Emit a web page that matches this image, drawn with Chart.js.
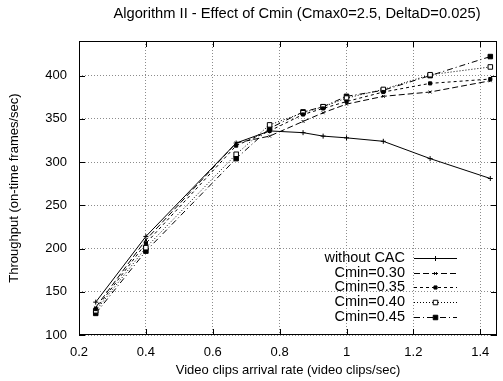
<!DOCTYPE html>
<html>
<head>
<meta charset="utf-8">
<script src="https://cdn.jsdelivr.net/npm/chart.js@4/dist/chart.umd.min.js"></script>
<style>
    html, body { margin: 0; padding: 0; background: #fff; }
    #wrap { width: 503px; height: 381px; }
</style>
</head>
<body>
<div id="wrap"><canvas id="throughputChart" width="503" height="381"></canvas></div>
<script>
const chartTitle = 'Algorithm II - Effect of Cmin (Cmax0=2.5, DeltaD=0.025)';
const arrivalRate = [0.25, 0.4, 0.67, 0.77, 0.87, 0.93, 1.0, 1.11, 1.25, 1.43];
const withoutCac = [138, 214, 322, 336, 334, 330, 328, 324, 304, 281];
const cmin030 = [132, 210, 322, 330, 347, 357, 367, 376, 381, 394];
const cmin035 = [130, 206, 319, 336, 355, 362, 370, 381, 391, 396];
const cmin040 = [128, 201, 309, 343, 357, 364, 374, 384, 401, 410];
const cmin045 = [125, 197, 304, 339, 358, 364, 376, 383, 400, 422];
const seriesLabels = ['without CAC', 'Cmin=0.30', 'Cmin=0.35', 'Cmin=0.40', 'Cmin=0.45'];
const xTickValues = [0.2, 0.4, 0.6, 0.8, 1.0, 1.2, 1.4];
const yTickValues = [100, 150, 200, 250, 300, 350, 400];

const FONT = "'Liberation Sans', Arial, Helvetica, sans-serif";

function toPoints(values) {
    return arrivalRate.map((x, i) => ({ x, y: values[i] }));
}

function makeSeries(label, values, dash, pointStyle, radius, fill) {
    return {
        label,
        data: toPoints(values),
        showLine: true,
        borderColor: '#000',
        borderWidth: 1,
        borderDash: dash,
        tension: 0,
        pointStyle,
        pointRadius: radius,
        pointHoverRadius: radius,
        pointBorderColor: '#000',
        pointBorderWidth: 1,
        pointBackgroundColor: fill
    };
}

// frame, inward ticks, title and the in-plot legend, gnuplot style
const gnuplotFrame = {
    id: 'gnuplotFrame',
    afterDraw(chart) {
        const ctx = chart.ctx;
        const area = chart.chartArea;
        const xs = chart.scales.x;
        const ys = chart.scales.y;
        const tick = 6;
        ctx.save();
        ctx.strokeStyle = '#000';
        ctx.lineWidth = 1;
        ctx.setLineDash([]);
        ctx.strokeRect(area.left + 0.5, area.top + 0.5, area.right - area.left - 1, area.bottom - area.top - 1);
        ctx.beginPath();
        xTickValues.forEach(v => {
            const px = Math.round(xs.getPixelForValue(v)) + 0.5;
            ctx.moveTo(px, area.bottom);
            ctx.lineTo(px, area.bottom - tick);
            ctx.moveTo(px, area.top);
            ctx.lineTo(px, area.top + tick);
        });
        yTickValues.forEach(v => {
            const py = Math.round(ys.getPixelForValue(v)) + 0.5;
            ctx.moveTo(area.left, py);
            ctx.lineTo(area.left + tick, py);
            ctx.moveTo(area.right, py);
            ctx.lineTo(area.right - tick, py);
        });
        ctx.stroke();

        ctx.fillStyle = '#000';
        ctx.font = '14.7px ' + FONT;
        ctx.textAlign = 'center';
        ctx.textBaseline = 'middle';
        ctx.fillText(chartTitle, (area.left + area.right) / 2 + 9, 14);

        // legend box in the lower right of the plot
        ctx.font = '14.5px ' + FONT;
        const textRight = area.right - 92;
        const lineLeft = area.right - 83;
        const lineRight = area.right - 40;
        let rowY = area.bottom - 77;
        chart.data.datasets.forEach(ds => {
            ctx.fillStyle = '#000';
            ctx.strokeStyle = '#000';
            ctx.textAlign = 'right';
            ctx.fillText(ds.label, textRight, rowY);
            const ly = Math.round(rowY) + 0.5;
            ctx.beginPath();
            ctx.setLineDash(ds.borderDash);
            ctx.moveTo(lineLeft, ly);
            ctx.lineTo(lineRight, ly);
            ctx.stroke();
            ctx.setLineDash([]);
            ctx.fillStyle = ds.pointBackgroundColor;
            Chart.helpers.drawPoint(ctx, {
                pointStyle: ds.pointStyle,
                radius: ds.pointRadius,
                borderWidth: 1,
                rotation: 0
            }, (lineLeft + lineRight) / 2, ly);
            rowY += 14.7;
        });
        ctx.restore();
    }
};

function formatTick(v) {
    return String(+v.toFixed(2));
}

function renderThroughputChart() {
    const canvas = document.getElementById('throughputChart');
    if (!canvas) {
        return;
    }
    new Chart(canvas, {
        type: 'scatter',
        data: {
            datasets: [
                makeSeries(seriesLabels[0], withoutCac, [], 'cross', 2.5, '#000'),
                makeSeries(seriesLabels[1], cmin030, [6, 3], 'crossRot', 2, '#000'),
                makeSeries(seriesLabels[2], cmin035, [3, 3], 'rect', 2.2, '#000'),
                makeSeries(seriesLabels[3], cmin040, [1, 2], 'rect', 3.2, '#fff'),
                makeSeries(seriesLabels[4], cmin045, [6, 3, 1, 3], 'rect', 3.2, '#000')
            ]
        },
        options: {
            responsive: false,
            animation: false,
            layout: {
                padding: { top: 41, right: 6, left: 0, bottom: 0 }
            },
            plugins: {
                legend: { display: false },
                title: { display: false },
                tooltip: { enabled: false }
            },
            scales: {
                x: {
                    type: 'linear',
                    min: 0.2,
                    max: 1.45,
                    afterBuildTicks: scale => {
                        scale.ticks = xTickValues.map(v => ({ value: v }));
                    },
                    afterFit: scale => {
                        scale.height = 46;
                    },
                    grid: {
                        color: '#8c8c8c',
                        lineWidth: 1,
                        drawTicks: false
                    },
                    border: { display: false, dash: [1, 2] },
                    ticks: {
                        color: '#000',
                        font: { family: FONT, size: 13 },
                        padding: 10,
                        maxRotation: 0,
                        callback: formatTick
                    },
                    title: {
                        display: true,
                        text: 'Video clips arrival rate (video clips/sec)',
                        color: '#000',
                        font: { family: FONT, size: 13 },
                        padding: { top: 0, bottom: 3 }
                    }
                },
                y: {
                    type: 'linear',
                    min: 100,
                    max: 440,
                    afterBuildTicks: scale => {
                        scale.ticks = yTickValues.map(v => ({ value: v }));
                    },
                    afterFit: scale => {
                        scale.width = 79;
                    },
                    grid: {
                        color: '#8c8c8c',
                        lineWidth: 1,
                        drawTicks: false
                    },
                    border: { display: false, dash: [1, 2] },
                    ticks: {
                        color: '#000',
                        font: { family: FONT, size: 13 },
                        padding: 12,
                        callback: formatTick
                    },
                    title: {
                        display: true,
                        text: 'Throughput (on-time frames/sec)',
                        color: '#000',
                        font: { family: FONT, size: 13 },
                        padding: { top: 7, bottom: 0 }
                    }
                }
            }
        },
        plugins: [gnuplotFrame]
    });
}

document.addEventListener('DOMContentLoaded', renderThroughputChart);
</script>
</body>
</html>
